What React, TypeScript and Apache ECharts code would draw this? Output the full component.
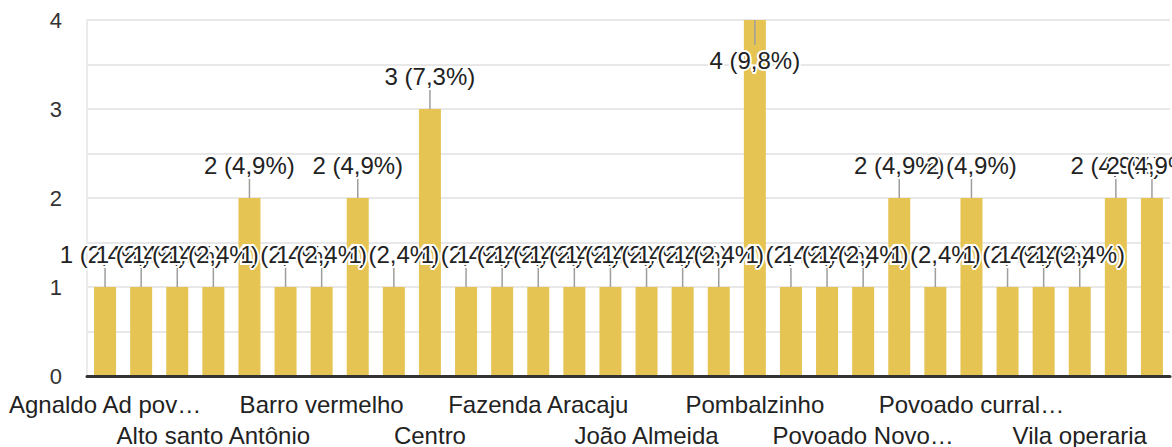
import { useEffect, useRef } from "react";
import * as echarts from "echarts";

const categories = [
  "Agnaldo Ad pov…",
  "Alto Alegre",
  "Alto da Boa Vista",
  "Alto santo Antônio",
  "Assentamento",
  "Baixa Grande",
  "Barro vermelho",
  "Bela Vista",
  "Boa Vista",
  "Centro",
  "Cohab",
  "Conjunto",
  "Fazenda Aracaju",
  "Fazenda Nova",
  "Itapicuru",
  "João Almeida",
  "Lagoa Seca",
  "Mutirão",
  "Pombalzinho",
  "Povoado Barreiro",
  "Povoado Lagoa",
  "Povoado Novo…",
  "Povoado Pau Ferro",
  "Povoado Sítio",
  "Povoado curral…",
  "Povoado sitio",
  "Santa Rita",
  "Vila operaria",
  "Vila nova",
  "Zona rural",
];

const counts = [1, 1, 1, 1, 2, 1, 1, 2, 1, 3, 1, 1, 1, 1, 1, 1, 1, 1, 4, 1, 1, 1, 2, 1, 2, 1, 1, 1, 2, 2];

const yTickLabels = [0, 1, 2, 3, 4];

const FONT = '"Liberation Sans", Arial, Helvetica, sans-serif';

export default function App() {
  const ref = useRef<HTMLDivElement>(null);

  useEffect(() => {
    const chart = echarts.init(ref.current!, undefined, { renderer: "svg" });
    const total = counts.reduce((a, b) => a + b, 0);
    const yMax = yTickLabels[yTickLabels.length - 1];
    const labelText = (v: number) =>
      `${v} (${((v / total) * 100).toFixed(1).replace(".", ",")}%)`;

    const labelBase = {
      color: "#222222",
      fontSize: 24,
      fontFamily: FONT,
      hideOverlap: false,
      showMinLabel: true,
      showMaxLabel: true,
    };

    chart.setOption({
      animation: false,
      grid: { left: 87, right: 2, top: 20, bottom: 69, containLabel: false },
      xAxis: [
        {
          type: "category",
          data: categories,
          axisTick: { show: false },
          axisLine: { lineStyle: { color: "#333333", width: 3 } },
          axisLabel: {
            ...labelBase,
            margin: 16,
            interval: (i: number) => i % 6 === 0,
          },
          z: 5,
        },
        {
          type: "category",
          data: categories,
          position: "bottom",
          offset: 31,
          axisTick: { show: false },
          axisLine: { show: false },
          splitLine: { show: false },
          axisLabel: {
            ...labelBase,
            margin: 16,
            interval: (i: number) => i % 6 === 3,
          },
        },
      ],
      yAxis: {
        type: "value",
        min: 0,
        max: yMax,
        interval: 0.5,
        axisLine: { show: true, lineStyle: { color: "#ebebeb", width: 2 } },
        axisTick: { show: false },
        splitLine: { lineStyle: { color: "#e8e8e8", width: 2 } },
        axisLabel: {
          margin: 25,
          color: "#333333",
          fontSize: 22,
          fontFamily: FONT,
          formatter: (v: number) => (yTickLabels.includes(v) ? String(v) : ""),
        },
      },
      series: [
        {
          type: "bar",
          data: counts,
          barWidth: 22,
          itemStyle: { color: "#e5c454" },
          z: 2,
        },
        {
          type: "custom",
          data: counts.map((v, i) => [i, v]),
          encode: { x: 0, y: 1 },
          clip: false,
          z: 10,
          renderItem: (params: any, api: any) => {
            const i = api.value(0);
            const v = api.value(1);
            const p = api.coord([i, v]);
            const atTop = v >= yMax;
            const lineEnd = atTop ? p[1] + 25 : p[1] - 22;
            const textY = atTop ? p[1] + 40 : p[1] - 33;
            return {
              type: "group",
              children: [
                {
                  type: "line",
                  shape: { x1: p[0], y1: p[1], x2: p[0], y2: lineEnd },
                  style: { stroke: "#9e9e9e", lineWidth: 1.5 },
                },
                {
                  type: "text",
                  style: {
                    text: labelText(counts[params.dataIndex]),
                    x: p[0],
                    y: textY,
                    align: "center",
                    verticalAlign: "middle",
                    fill: "#222222",
                    stroke: "#ffffff",
                    lineWidth: 4,
                    fontSize: 24,
                    fontFamily: FONT,
                  },
                },
              ],
            };
          },
        },
      ],
    });

    return () => chart.dispose();
  }, []);

  return (
    <div
      ref={ref}
      style={{ position: "fixed", left: 0, top: 0, width: 1172, height: 447, background: "#fff" }}
    />
  );
}
